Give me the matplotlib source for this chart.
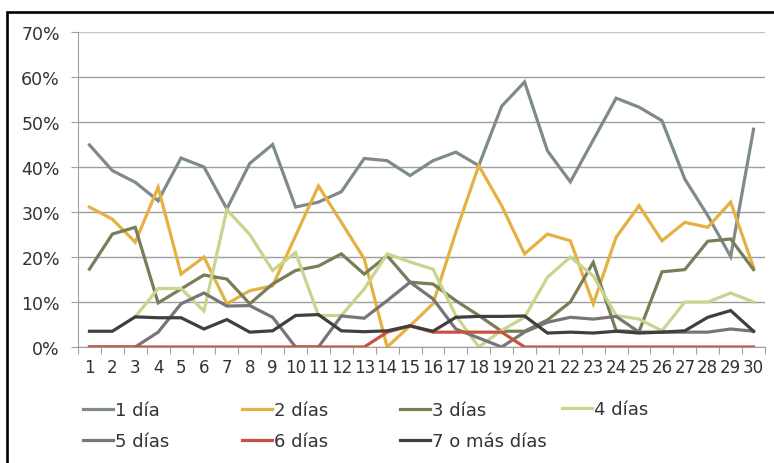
import numpy as np
import matplotlib
matplotlib.use("Agg")
import matplotlib.pyplot as plt
from matplotlib.patches import Rectangle

# Data (percent per day of month)
days = list(range(1, 31))
labels = ["1 día", "2 días", "3 días", "4 días", "5 días", "6 días", "7 o más días"]

dia1 = [44.9, 39.2, 36.6, 32.5, 42, 40, 30.7, 40.8, 45, 31.1, 32.2, 34.5, 41.9, 41.4, 38.1,
        41.4, 43.3, 40.3, 53.5, 58.9, 43.6, 36.7, 46, 55.3, 53.3, 50.3, 37.3, 29.2, 20.1, 48.4]
dias2 = [31.1, 28.4, 23.3, 35.5, 16.2, 20, 9.6, 12.5, 13.6, 24.7, 35.8, 27.7, 19.6, 0, 4.7,
         9.6, 25.5, 40.3, 31.4, 20.7, 25.1, 23.6, 9.6, 24.4, 31.4, 23.6, 27.7, 26.6, 32.2, 17.7]
dias3 = [17.3, 25.1, 26.6, 9.8, 12.9, 16, 15.1, 9.6, 14, 17, 18, 20.7, 16.2, 20.3, 14.4,
         14, 10.3, 7, 3.5, 3.5, 6, 10, 18.8, 3.6, 3.4, 16.7, 17.2, 23.5, 24, 17.2]
dias4 = [np.nan, np.nan, 6.7, 13, 13, 8, 30.5, 25, 17, 21, 7, 7, 12.9, 20.7, 18.9,
         17.3, 7, 0, 3.7, 6.6, 15.5, 20, 15.8, 7, 6.2, 3.6, 10, 10, 12, 10]
dias5 = [0, 0, 0, 3.3, 9.6, 12, 9.1, 9.2, 6.6, 0, 0, 6.9, 6.4, 10.3, 14.4,
         10.7, 4, 2, 0, 3.3, 5.5, 6.6, 6.2, 6.8, 3.3, 3.3, 3.3, 3.3, 4, 3.5]
dias6 = [0, 0, 0, 0, 0, 0, 0, 0, 0, 0, 0, 0, 0, 3.3, 4.7,
         3.3, 3.3, 3.3, 3.3, 0, 0, 0, 0, 0, 0, 0, 0, 0, 0, 0]
dias7 = [3.5, 3.5, 6.7, 6.5, 6.5, 4, 6.1, 3.3, 3.6, 7, 7.2, 3.6, 3.4, 3.6, 4.7,
         3.5, 6.6, 6.8, 6.8, 6.9, 3.1, 3.3, 3.1, 3.5, 3.1, 3.3, 3.6, 6.6, 8.1, 3.5]

series = [dia1, dias2, dias3, dias4, dias5, dias6, dias7]
colors = ["#7f8b8b", "#e5b143", "#7b7c5a", "#c9d48c", "#797476", "#c8513f", "#3f3f3f"]

fig = plt.figure(figsize=(7.74, 4.64), dpi=100)
ax = fig.add_axes([78 / 774, 1 - 348 / 464, (765 - 78) / 774, (348 - 33) / 464])

lines = []
for vals, lab, col in zip(series, labels, colors):
    ln, = ax.plot(days, vals, color=col, lw=2.3, label=lab, solid_joinstyle="miter")
    lines.append(ln)

ax.set_xlim(0.5, 30.5)
ax.set_ylim(0, 70)
ax.set_yticks(range(0, 71, 10))
ax.set_yticklabels([f"{v}%" for v in range(0, 71, 10)])

# ticks between categories, labels centred on categories
ax.set_xticks(np.arange(0.5, 31, 1))
ax.set_xticklabels([])
ax.set_xticks(days, minor=True)
ax.set_xticklabels([str(d) for d in days], minor=True)
ax.tick_params(axis="x", which="major", length=5, color="#a0a0a0", direction="out")
ax.tick_params(axis="x", which="minor", length=0, pad=8, labelsize=12, labelcolor="#333333")
ax.tick_params(axis="y", length=5, color="#a0a0a0", pad=8, labelsize=12.5, labelcolor="#333333")

ax.yaxis.grid(True, color="#9e9e9e", lw=1)
ax.get_ygridlines()[-1].set_color("#c4c4c4")
ax.set_axisbelow(True)
for s in ["top", "right"]:
    ax.spines[s].set_visible(False)
ax.spines["left"].set_color("#a0a0a0")
ax.spines["bottom"].set_color("#a0a0a0")

# legend: one small legend per column, like the Excel layout
cols = [([0, 4], 83), ([1, 5], 242), ([2, 6], 400), ([3], 562)]
for idx, xpx in cols:
    yc = 1 - 426.5 / 464 if len(idx) == 2 else 1 - 410 / 464
    leg = fig.legend([lines[i] for i in idx], [labels[i] for i in idx],
                     loc="center left", bbox_to_anchor=(xpx / 774, yc),
                     frameon=False, fontsize=13, handlelength=1.65, handletextpad=0.12,
                     borderpad=0, borderaxespad=0, labelspacing=0.7, labelcolor="#333333")

# black frame around the chart
fig.patches.append(Rectangle((7 / 774, -0.1), 1.2, 1 - 13 / 464 + 0.1, transform=fig.transFigure,
                             fill=False, edgecolor="black", lw=1.9))

fig.savefig("out.png", dpi=100)
